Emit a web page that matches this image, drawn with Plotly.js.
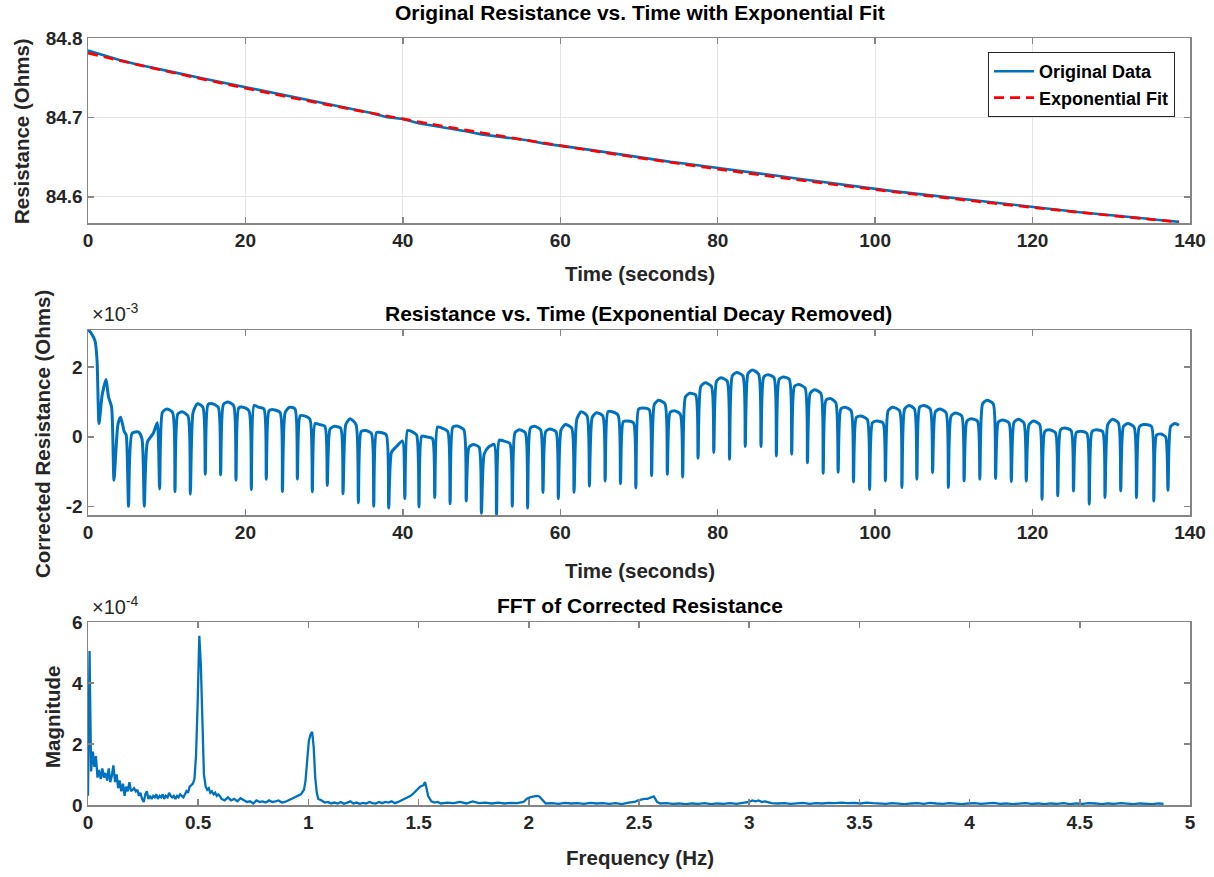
<!DOCTYPE html>
<html>
<head>
<meta charset="utf-8">
<script src="https://cdn.plot.ly/plotly-3.0.1.min.js"></script>
<style>html,body{margin:0;padding:0;background:#fff;}#chart{width:1214px;height:877px;}</style>
</head>
<body>
<div id="chart"></div>
<script>
// ---------- Data ----------
// Top panel: original resistance (Ohms) sampled every 2 s
const origTime = [0,2,4,6,8,10,12,14,16,18,20,22,24,26,28,30,32,34,36,38,40,42,44,46,48,50,52,54,56,58,60,62,64,66,68,70,72,74,76,78,80,82,84,86,88,90,92,94,96,98,100,102,104,106,108,110,112,114,116,118,120,122,124,126,128,130,132,134,136,138,138.6];
const origValue = [84.7841,84.7778,84.7722,84.7672,84.7627,84.7589,84.7545,84.7503,84.7462,84.7420,84.7376,84.7336,84.7293,84.7254,84.7212,84.7171,84.7134,84.7094,84.7056,84.7003,84.6980,84.6927,84.6895,84.6856,84.6825,84.6786,84.6759,84.6733,84.6709,84.6670,84.6646,84.6616,84.6588,84.6558,84.6526,84.6499,84.6472,84.6440,84.6417,84.6392,84.6365,84.6340,84.6314,84.6286,84.6258,84.6230,84.6203,84.6176,84.6148,84.6121,84.6095,84.6075,84.6053,84.6030,84.6006,84.5981,84.5958,84.5940,84.5913,84.5892,84.5870,84.5847,84.5826,84.5805,84.5786,84.5769,84.5748,84.5729,84.5708,84.5691,84.5685];
// Top panel: exponential fit (Ohms) every 5 s
const fitTime = [0,5,10,15,20,25,30,35,40,45,50,55,60,65,70,75,80,85,90,95,100,105,110,115,120,125,130,135,138.6];
const fitValue = [84.7810,84.7694,84.7581,84.7473,84.7368,84.7266,84.7168,84.7073,84.6981,84.6892,84.6807,84.6724,84.6644,84.6566,84.6491,84.6419,84.6349,84.6281,84.6215,84.6152,84.6091,84.6032,84.5975,84.5919,84.5866,84.5814,84.5764,84.5716,84.5682];

// Middle panel: corrected resistance, in units of 1e-3 Ohm
const corrTime = [0,0.4,0.9,1.15,1.4,1.8,2.3,2.6,3.0,3.3,3.8,4.15,4.6,4.85,5.15,5.6,6.4,6.85,7.15,7.55,8.3,8.8,
9.1,9.45,10.0,10.75, 11.05,11.4,11.95,12.7, 13.0,13.35,13.9,14.6, 14.9,15.25,15.8,16.55, 16.85,17.2,17.75,18.5,
18.8,19.15,19.7,20.45, 20.75,21.1,21.65,22.35, 22.65,23.0,23.55,24.4, 24.7,25.05,25.6,26.3, 26.6,26.95,27.5,28.2,
28.5,28.85,29.4,30.1, 30.4,30.75,31.3,32.1, 32.4,32.75,33.3,34.05, 34.35,34.7,35.25,36.0, 36.3,36.65,37.2,37.9,
38.2,38.55,39.1,39.95, 40.25,40.6,41.15,41.75, 42.05,42.4,42.95,43.75, 44.05,44.4,44.95,45.7, 46.0,46.35,46.9,47.75,
48.05,48.4,48.95,49.68, 49.98,50.33,50.88,51.6, 51.9,52.25,52.8,53.6, 53.9,54.25,54.8,55.55, 55.85,56.2,56.75,57.5,
57.8,58.15,58.7,59.45, 59.75,60.1,60.65,61.45, 61.75,62.1,62.65,63.4, 63.7,64.05,64.6,65.4, 65.7,66.05,66.6,67.35,
67.65,68.0,68.55,69.3, 69.6,69.95,70.5,71.3, 71.6,71.95,72.5,73.3, 73.6,73.95,74.5,75.25, 75.55,75.9,76.45,77.2,
77.5,77.85,78.4,79.2, 79.5,79.85,80.4,81.2, 81.5,81.85,82.4,83.2, 83.5,83.85,84.4,85.2, 85.5,85.85,86.4,87.15,
87.45,87.8,88.35,89.1, 89.4,89.75,90.3,91.1, 91.4,91.75,92.3,93.1, 93.4,93.75,94.3,95.0, 95.3,95.65,96.2,96.95,
97.25,97.6,98.15,99.0, 99.3,99.65,100.2,101.0, 101.3,101.65,102.2,103.1, 103.4,103.75,104.3,105.0, 105.3,105.65,106.2,107.0,
107.3,107.65,108.2,109.0, 109.3,109.65,110.2,111.0, 111.3,111.65,112.2,113.0, 113.3,113.65,114.2,115.0, 115.3,115.65,116.2,117.0,
117.3,117.65,118.2,118.9, 119.2,119.55,120.1,120.9, 121.2,121.55,122.1,122.9, 123.2,123.55,124.1,124.9, 125.2,125.55,126.1,126.9,
127.2,127.55,128.1,128.9, 129.2,129.55,130.1,130.9, 131.2,131.55,132.1,132.9, 133.2,133.55,134.1,135.1, 135.4,135.75,136.3,136.9,
137.2,137.55,138.1,138.6];
const corrValue = [3.08,2.98,2.75,2.2,0.38,1.2,1.65,1.15,0.85,-1.25,0.35,0.56,0.15,0.05,-2.0,0.1,0.14,-0.05,-2.0,-0.15,0.1,0.4,
-1.5,0.7,0.8,0.7, -1.58,0.65,0.72,0.6, -1.65,0.7,0.95,0.85, -1.08,0.93,0.95,0.85, -1.1,0.93,1.0,0.9,
-1.25,0.83,0.85,0.75, -1.52,0.9,0.85,0.8, -1.22,0.75,0.78,0.7, -1.58,0.7,0.85,0.8, -1.22,0.6,0.6,0.5,
-1.58,0.38,0.35,0.3, -1.4,0.22,0.3,0.25, -1.64,0.35,0.52,0.35, -1.9,0.15,0.18,0.1, -2.0,0.12,0.12,0.05,
-2.05,-0.45,-0.3,-0.12, -1.78,0.18,0.15,0.05, -2.02,0.02,0.0,-0.05, -1.75,0.28,0.25,0.15, -1.93,0.28,0.31,0.2,
-1.85,-0.3,-0.22,-0.3, -2.2,-0.5,-0.3,-0.22, -2.25,-0.1,-0.12,-0.2, -2.0,0.12,0.2,0.12, -2.05,0.25,0.3,0.2,
-1.6,0.15,0.22,0.15, -1.78,0.2,0.35,0.25, -1.6,0.5,0.72,0.6, -1.42,0.55,0.69,0.6, -1.27,0.72,0.72,0.62,
-1.35,0.43,0.45,0.4, -1.47,0.8,0.83,0.78, -1.12,0.93,1.05,0.95, -1.08,0.7,0.75,0.65, -1.16,1.15,1.25,1.2,
-0.62,1.45,1.55,1.45, -0.45,1.6,1.7,1.6, -0.65,1.75,1.85,1.75, -0.28,1.82,1.92,1.8, -0.28,1.72,1.78,1.7,
-0.55,1.65,1.72,1.65, -0.5,1.45,1.5,1.4, -0.75,1.25,1.35,1.25, -1.05,1.05,1.1,0.98, -1.02,0.8,0.85,0.75,
-1.3,0.55,0.6,0.5, -1.52,0.4,0.45,0.4, -1.27,0.75,0.85,0.75, -1.46,0.8,0.9,0.8, -1.22,0.85,0.9,0.8,
-1.03,0.72,0.8,0.7, -1.46,0.6,0.68,0.6, -1.27,0.45,0.52,0.45, -1.22,0.95,1.05,0.95, -1.2,0.42,0.48,0.4,
-1.29,0.42,0.5,0.4, -1.27,0.35,0.45,0.35, -1.8,0.15,0.2,0.12, -1.7,0.2,0.25,0.18, -1.56,0.12,0.16,0.1,
-1.94,0.15,0.2,0.15, -1.75,0.35,0.5,0.4, -1.56,0.3,0.38,0.28, -1.75,0.28,0.35,0.3, -1.85,0.05,0.08,0.0,
-1.54,0.3,0.38,0.33];

// Bottom panel: FFT magnitude, in units of 1e-4
const fftFreq = [0.000,0.007,0.014,0.022,0.029,0.036,0.043,0.050,0.058,0.065,0.072,0.079,0.087,0.094,0.101,0.108,0.115,0.123,0.130,0.137,0.144,0.151,0.159,0.166,0.173,0.180,0.188,0.195,0.202,0.209,0.217,0.224,0.231,0.238,0.245,0.253,0.260,0.267,0.274,0.281,0.289,0.296,0.303,0.310,0.317,0.325,0.332,0.339,0.346,0.353,0.361,0.368,0.375,0.382,0.389,0.397,0.404,0.411,0.418,0.425,0.433,0.440,0.447,0.454,0.461,0.469,0.476,0.483,0.490,0.497,0.505,0.512,0.519,0.526,0.534,0.541,0.548,0.555,0.562,0.570,0.577,0.584,0.591,0.598,0.606,
0.620,0.635,0.649,0.663,0.678,0.692,0.707,0.721,0.735,0.750,0.764,0.779,0.793,0.807,0.822,0.836,0.851,0.865,0.879,0.894,0.908,0.923,0.937,0.951,0.966,0.980,0.987,0.995,1.002,1.009,1.017,1.024,1.031,1.038,1.045,1.060,1.074,1.089,1.103,1.118,1.132,1.147,1.161,1.176,1.190,1.204,1.219,1.233,1.248,1.262,1.277,1.291,1.305,1.320,1.334,1.349,1.363,1.378,1.392,1.407,1.421,1.435,1.450,1.464,1.479,1.493,1.507,1.522,1.529,1.536,1.543,1.558,1.572,1.587,1.601,
1.630,1.659,1.688,1.717,1.745,1.774,1.803,1.832,1.861,1.889,1.918,1.947,1.976,1.990,2.005,2.019,2.034,2.048,2.063,2.077,2.106,2.135,2.164,2.192,2.221,2.250,2.279,2.308,2.336,2.365,2.394,2.423,2.452,2.480,2.495,2.509,2.524,2.538,2.553,2.567,2.582,2.596,2.625,2.654,2.683,2.711,2.740,2.769,2.798,2.827,2.855,2.884,2.913,2.942,2.971,3.000,3.014,3.029,3.043,3.058,3.072,3.101,
3.130,3.159,3.188,3.216,3.245,3.274,3.303,3.332,3.360,3.389,3.418,3.447,3.476,3.504,3.533,3.562,3.591,3.620,3.648,3.677,3.706,3.735,3.764,3.792,3.821,3.850,3.879,3.908,3.936,3.965,3.994,4.023,4.052,4.080,4.109,4.138,4.167,4.196,4.224,4.253,4.282,4.311,4.340,4.368,4.397,4.426,4.455,4.484,4.512,4.541,4.570,4.599,4.628,4.656,4.685,4.714,4.743,4.772,4.800,4.829,4.858,4.880];
const fftMag = [0.3,5.05,1.1,1.75,1.25,1.6,0.9,1.15,0.85,1.2,0.9,1.05,0.8,1.2,0.75,0.95,1.3,0.75,1.0,0.55,0.8,0.45,0.7,0.3,0.6,0.45,0.75,0.45,0.5,0.55,0.45,0.5,0.3,0.4,0.2,0.1,0.35,0.45,0.2,0.3,0.2,0.3,0.25,0.35,0.2,0.3,0.25,0.35,0.2,0.3,0.25,0.4,0.3,0.25,0.3,0.2,0.3,0.25,0.35,0.3,0.25,0.35,0.45,0.4,0.6,0.65,0.7,0.85,1.6,3.2,5.55,4.6,2.3,1.0,0.6,0.5,0.55,0.4,0.45,0.35,0.4,0.3,0.35,0.3,0.2,
0.15,0.25,0.15,0.2,0.12,0.22,0.15,0.1,0.12,0.05,0.15,0.1,0.12,0.08,0.15,0.1,0.12,0.15,0.08,0.1,0.15,0.2,0.25,0.3,0.35,0.5,0.8,1.5,2.1,2.3,2.4,1.9,0.9,0.4,0.2,0.15,0.08,0.1,0.05,0.08,0.05,0.1,0.04,0.08,0.12,0.05,0.08,0.04,0.07,0.05,0.1,0.06,0.05,0.1,0.06,0.1,0.08,0.12,0.06,0.1,0.15,0.2,0.25,0.3,0.4,0.5,0.6,0.65,0.75,0.55,0.3,0.12,0.08,0.1,0.05,
0.08,0.06,0.1,0.05,0.12,0.06,0.08,0.05,0.08,0.05,0.07,0.06,0.1,0.2,0.25,0.28,0.3,0.28,0.15,0.05,0.06,0.04,0.07,0.05,0.06,0.04,0.07,0.05,0.06,0.04,0.06,0.03,0.08,0.1,0.15,0.18,0.2,0.2,0.25,0.28,0.1,0.05,0.06,0.04,0.05,0.03,0.05,0.04,0.06,0.03,0.05,0.04,0.06,0.04,0.07,0.1,0.15,0.12,0.15,0.1,0.12,0.06,
0.05,0.06,0.04,0.05,0.07,0.04,0.06,0.05,0.07,0.06,0.08,0.06,0.07,0.05,0.08,0.06,0.05,0.04,0.06,0.05,0.03,0.05,0.06,0.04,0.07,0.05,0.04,0.06,0.05,0.03,0.05,0.06,0.04,0.05,0.07,0.04,0.05,0.03,0.05,0.06,0.04,0.05,0.03,0.05,0.04,0.06,0.03,0.05,0.04,0.06,0.05,0.03,0.05,0.04,0.06,0.04,0.03,0.05,0.04,0.03,0.05,0.04];

// Tick labels
const timeTicks = [0,20,40,60,80,100,120,140];
const resTicks = [84.6,84.7,84.8];
const resTickText = ['84.6','84.7','84.8'];
const corrTicks = [-2,0,2];
const corrTickText = ['-2','0','2'];
const freqTicks = [0,0.5,1,1.5,2,2.5,3,3.5,4,4.5,5];
const freqTickText = ['0','0.5','1','1.5','2','2.5','3','3.5','4','4.5','5'];
const magTicks = [0,2,4,6];

// ---------- Styling ----------
const REG = '"Liberation Sans", Arial, Helvetica, sans-serif';
const BLUE = '#0072BD';
const AX = '#858585';
const tickFont = {family: REG, size: 19, color: '#262626', weight: 'bold'};

function axisBase(extra) {
  return Object.assign({
    showline: true, linecolor: AX, linewidth: 1.5, mirror: 'ticks',
    ticks: 'inside', ticklen: 6, tickwidth: 1.5, tickcolor: AX,
    zeroline: false, showgrid: false, tickfont: tickFont, fixedrange: true
  }, extra);
}

const traces = [
  {x: origTime, y: origValue, type: 'scatter', mode: 'lines', name: 'Original Data',
   line: {color: BLUE, width: 2.6}, xaxis: 'x', yaxis: 'y'},
  {x: fitTime, y: fitValue, type: 'scatter', mode: 'lines', name: 'Exponential Fit',
   line: {color: '#FF0000', width: 2.7, dash: '10px,6px', shape: 'spline'}, xaxis: 'x', yaxis: 'y'},
  {x: corrTime, y: corrValue, type: 'scatter', mode: 'lines', showlegend: false,
   line: {color: BLUE, width: 3, shape: 'spline', smoothing: 0.6}, xaxis: 'x2', yaxis: 'y2'},
  {x: fftFreq, y: fftMag, type: 'scatter', mode: 'lines', showlegend: false,
   line: {color: BLUE, width: 2.3}, xaxis: 'x3', yaxis: 'y3'}
];

// pixel -> paper helpers for annotations (plot area: x 88..1190, y 38..805)
const px = X => (X - 88) / 1102;
const py = Y => (805 - Y) / 767;

function ann(text, X, Y, opts) {
  return Object.assign({text: text, x: px(X), y: py(Y), xref: 'paper', yref: 'paper',
    showarrow: false, xanchor: 'center', yanchor: 'middle',
    font: {family: REG, size: 21, color: '#000000', weight: 'bold'}}, opts || {});
}

const axisTitleFont = {family: REG, size: 20.5, color: '#262626', weight: 'bold'};

const layout = {
  width: 1214, height: 877,
  margin: {l: 88, r: 24, t: 38, b: 72, pad: 0},
  paper_bgcolor: '#ffffff', plot_bgcolor: '#ffffff',
  showlegend: true,
  legend: {x: px(1175), y: py(52), xanchor: 'right', yanchor: 'top',
    bgcolor: '#ffffff', bordercolor: '#262626', borderwidth: 1,
    font: {family: REG, size: 18, color: '#000000', weight: 'bold'},
    tracegroupgap: 0, itemwidth: 40},
  xaxis: axisBase({domain: [0, 1], range: [0, 140], anchor: 'y', tickvals: timeTicks,
    showgrid: true, gridcolor: '#e4e4e4', gridwidth: 1}),
  yaxis: axisBase({domain: [py(223), 1], range: [84.567, 84.8], anchor: 'x', tickvals: resTicks,
    ticktext: resTickText, showgrid: true, gridcolor: '#e4e4e4', gridwidth: 1}),
  xaxis2: axisBase({domain: [0, 1], range: [0, 140], anchor: 'y2', tickvals: timeTicks}),
  yaxis2: axisBase({domain: [py(515), py(330)], range: [-2.25, 3.07], anchor: 'x2',
    tickvals: corrTicks, ticktext: corrTickText}),
  xaxis3: axisBase({domain: [0, 1], range: [0, 5], anchor: 'y3', tickvals: freqTicks, ticktext: freqTickText}),
  yaxis3: axisBase({domain: [0, py(622)], range: [0, 6], anchor: 'x3', tickvals: magTicks}),
  annotations: [
    ann('Original Resistance vs. Time with Exponential Fit', 640, 12),
    ann('Resistance vs. Time (Exponential Decay Removed)', 638, 313),
    ann('FFT of Corrected Resistance', 640, 605),
    ann('Time (seconds)', 640, 273, {font: axisTitleFont}),
    ann('Time (seconds)', 640, 570, {font: axisTitleFont}),
    ann('Frequency (Hz)', 640, 858, {font: axisTitleFont}),
    ann('Resistance (Ohms)', 22, 131, {font: axisTitleFont, textangle: -90}),
    ann('Corrected Resistance (Ohms)', 42, 434, {font: axisTitleFont, textangle: -90}),
    ann('Magnitude', 52, 717, {font: axisTitleFont, textangle: -90}),
    ann('×10<sup>-3</sup>', 90, 312, {xanchor: 'left', font: {family: REG, size: 20, color: '#262626'}}),
    ann('×10<sup>-4</sup>', 90, 605, {xanchor: 'left', font: {family: REG, size: 20, color: '#262626'}})
  ]
};

Plotly.newPlot('chart', traces, layout, {displayModeBar: false, staticPlot: true});
</script>
</body>
</html>
